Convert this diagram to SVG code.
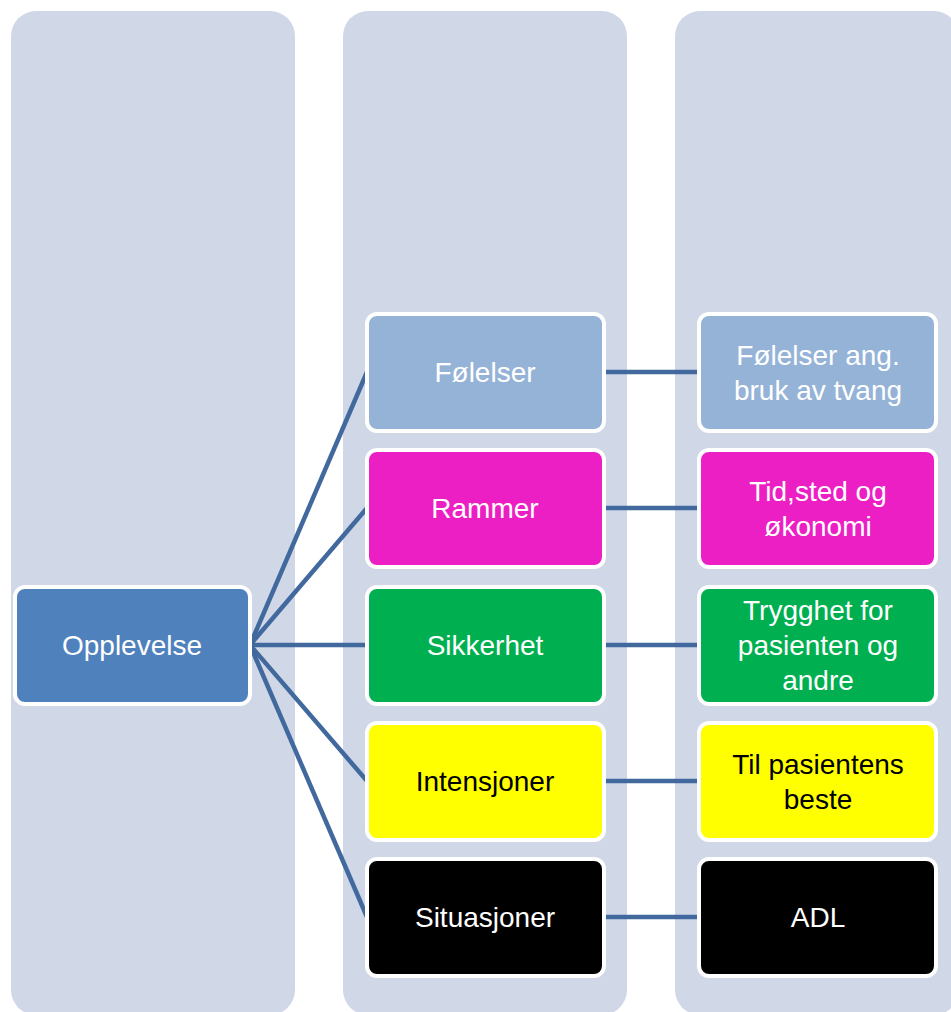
<svg xmlns="http://www.w3.org/2000/svg" width="951" height="1012" viewBox="0 0 951 1012">
<style>
.col{fill:#D0D8E8}
.n{stroke:#FFFFFF;stroke-width:4}
.t{font-family:"Liberation Sans",Arial,sans-serif;font-size:28px;text-anchor:middle;fill:#FFFFFF}
.d{fill:#000000}
.c{stroke:#41699D;stroke-width:4.5;fill:none}
</style>
<rect class="col" x="11" y="11" width="284" height="1004" rx="25"/>
<rect class="col" x="343" y="11" width="284" height="1004" rx="25"/>
<rect class="col" x="675" y="11" width="284" height="1004" rx="25"/>
<g id="connectors">
<line class="c" x1="250" y1="645" x2="367" y2="372"/>
<line class="c" x1="250" y1="645" x2="367" y2="508"/>
<line class="c" x1="250" y1="645" x2="367" y2="645"/>
<line class="c" x1="250" y1="645" x2="367" y2="781"/>
<line class="c" x1="250" y1="645" x2="367" y2="917"/>
<line class="c" x1="604" y1="372" x2="699" y2="372"/>
<line class="c" x1="604" y1="508" x2="699" y2="508"/>
<line class="c" x1="604" y1="645" x2="699" y2="645"/>
<line class="c" x1="604" y1="781" x2="699" y2="781"/>
<line class="c" x1="604" y1="917" x2="699" y2="917"/>
</g>
<g id="opplevelse"><rect class="n" x="15" y="587" width="235" height="117" rx="10" fill="#4F81BD"/><text class="t" x="132" y="655">Opplevelse</text></g>
<g id="folelser"><rect class="n" x="367" y="314" width="237" height="117" rx="10" fill="#95B3D7"/><text class="t" x="485" y="382">Følelser</text></g>
<g id="rammer"><rect class="n" x="367" y="450" width="237" height="117" rx="10" fill="#EC1FC4"/><text class="t" x="485" y="518">Rammer</text></g>
<g id="sikkerhet"><rect class="n" x="367" y="587" width="237" height="117" rx="10" fill="#00B050"/><text class="t" x="485" y="655">Sikkerhet</text></g>
<g id="intensjoner"><rect class="n" x="367" y="723" width="237" height="117" rx="10" fill="#FFFF00"/><text class="t d" x="485" y="791">Intensjoner</text></g>
<g id="situasjoner"><rect class="n" x="367" y="859" width="237" height="117" rx="10" fill="#000000"/><text class="t" x="485" y="927">Situasjoner</text></g>
<g id="folelser-ang"><rect class="n" x="699" y="314" width="237" height="117" rx="10" fill="#95B3D7"/><text class="t" x="818" y="365">Følelser ang.</text><text class="t" x="818" y="400">bruk av tvang</text></g>
<g id="tid-sted"><rect class="n" x="699" y="450" width="237" height="117" rx="10" fill="#EC1FC4"/><text class="t" x="818" y="501">Tid,sted og</text><text class="t" x="818" y="536">økonomi</text></g>
<g id="trygghet"><rect class="n" x="699" y="587" width="237" height="117" rx="10" fill="#00B050"/><text class="t" x="818" y="620">Trygghet for</text><text class="t" x="818" y="655">pasienten og</text><text class="t" x="818" y="690">andre</text></g>
<g id="til-pasientens"><rect class="n" x="699" y="723" width="237" height="117" rx="10" fill="#FFFF00"/><text class="t d" x="818" y="774">Til pasientens</text><text class="t d" x="818" y="809">beste</text></g>
<g id="adl"><rect class="n" x="699" y="859" width="237" height="117" rx="10" fill="#000000"/><text class="t" x="818" y="927">ADL</text></g>
</svg>
